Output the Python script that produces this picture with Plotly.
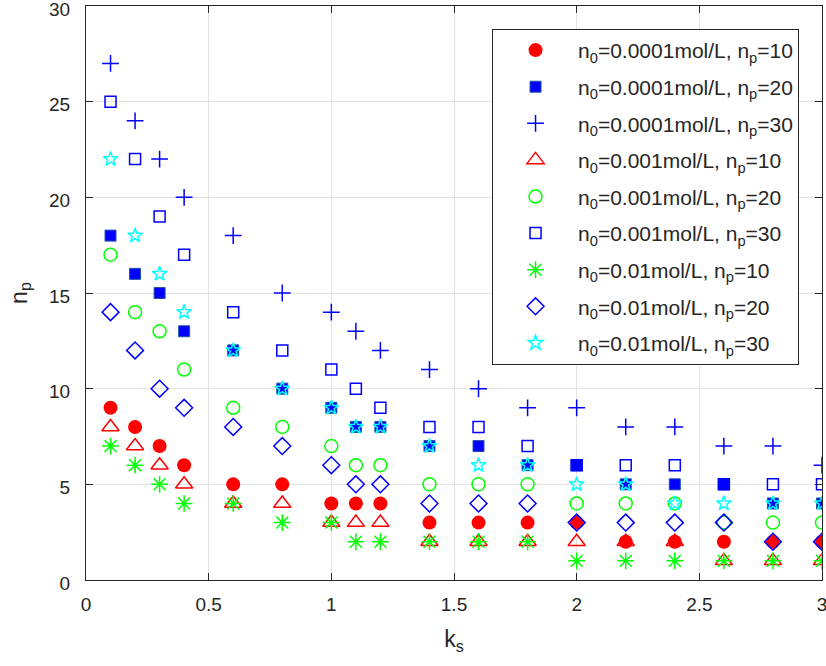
import plotly.graph_objects as go

ks = [0.1, 0.2, 0.3, 0.4, 0.6, 0.8, 1.0, 1.1, 1.2, 1.4, 1.6, 1.8, 2.0, 2.2, 2.4, 2.6, 2.8, 3.0]

np_1e4_10 = [9, 8, 7, 6, 5, 5, 4, 4, 4, 3, 3, 3, 3, 2, 2, 2, 2, 2]
np_1e4_20 = [18, 16, 15, 13, 12, 10, 9, 8, 8, 7, 7, 6, 6, 5, 5, 5, 4, 4]
np_1e4_30 = [27, 24, 22, 20, 18, 15, 14, 13, 12, 11, 10, 9, 9, 8, 8, 7, 7, 6]
np_1e3_10 = [8, 7, 6, 5, 4, 4, 3, 3, 3, 2, 2, 2, 2, 2, 2, 1, 1, 1]
np_1e3_20 = [17, 14, 13, 11, 9, 8, 7, 6, 6, 5, 5, 5, 4, 4, 4, 3, 3, 3]
np_1e3_30 = [25, 22, 19, 17, 14, 12, 11, 10, 9, 8, 8, 7, 6, 6, 6, 5, 5, 5]
np_1e2_10 = [7, 6, 5, 4, 4, 3, 3, 2, 2, 2, 2, 2, 1, 1, 1, 1, 1, 1]
np_1e2_20 = [14, 12, 10, 9, 8, 7, 6, 5, 5, 4, 4, 4, 3, 3, 3, 3, 2, 2]
np_1e2_30 = [22, 18, 16, 14, 12, 10, 9, 8, 8, 7, 6, 6, 5, 5, 4, 4, 4, 4]

names = [
    "n<sub>0</sub>=0.0001mol/L, n<sub>p</sub>=10",
    "n<sub>0</sub>=0.0001mol/L, n<sub>p</sub>=20",
    "n<sub>0</sub>=0.0001mol/L, n<sub>p</sub>=30",
    "n<sub>0</sub>=0.001mol/L, n<sub>p</sub>=10",
    "n<sub>0</sub>=0.001mol/L, n<sub>p</sub>=20",
    "n<sub>0</sub>=0.001mol/L, n<sub>p</sub>=30",
    "n<sub>0</sub>=0.01mol/L, n<sub>p</sub>=10",
    "n<sub>0</sub>=0.01mol/L, n<sub>p</sub>=20",
    "n<sub>0</sub>=0.01mol/L, n<sub>p</sub>=30",
]
series = [np_1e4_10, np_1e4_20, np_1e4_30, np_1e3_10, np_1e3_20,
          np_1e3_30, np_1e2_10, np_1e2_20, np_1e2_30]

styles = [
    dict(symbol="circle", size=14, color="#ff0000", line=dict(width=0)),
    dict(symbol="square", size=11, color="#0000ff", line=dict(width=1, color="#1f55a8")),
    dict(symbol="cross-thin-open", size=12, color="#0000ff", line=dict(width=1.5, color="#0000ff")),
    dict(symbol="triangle-up-open", size=15, color="#ff0000", line=dict(width=1.5, color="#ff0000")),
    dict(symbol="circle-open", size=13, color="#00ff00", line=dict(width=1.5, color="#00ff00")),
    dict(symbol="square-open", size=11, color="#0000ff", line=dict(width=1.5, color="#0000ff")),
    dict(symbol="asterisk-open", size=14, color="#00ff00", line=dict(width=1.5, color="#00ff00")),
    dict(symbol="diamond-open", size=13, color="#0000ff", line=dict(width=1.5, color="#0000ff")),
    dict(symbol="star-open", size=11, color="#00ffff", line=dict(width=1.5, color="#00ffff")),
]

fig = go.Figure()
for i, (nm, ys, st) in enumerate(zip(names, series, styles)):
    fig.add_trace(go.Scatter(x=ks, y=ys, mode="markers", name=nm, marker=st,
                             legendgroup=str(i), cliponaxis=True))

FONT = "Liberation Sans, Arial, Helvetica"
axis_common = dict(
    showline=True, linecolor="#262626", linewidth=1, mirror="ticks",
    ticks="inside", ticklen=7, tickcolor="#262626", tickwidth=1,
    showgrid=True, gridcolor="#e3e3e3", gridwidth=1, zeroline=False,
    tickfont=dict(family=FONT, size=19, color="#262626"),
    ticklabeloverflow="allow", automargin=False,
)

fig.update_layout(
    width=826, height=666,
    margin=dict(l=86, r=4, t=6, b=86, autoexpand=False),
    paper_bgcolor="white", plot_bgcolor="white",
    font=dict(family=FONT, size=19, color="#262626"),
    xaxis=dict(range=[0, 3], tickvals=[0, 0.5, 1, 1.5, 2, 2.5, 3],
               ticktext=["0", "0.5", "1", "1.5", "2", "2.5", "3"],
               title=dict(text="k<sub>s</sub>", standoff=17,
                          font=dict(family=FONT, size=23, color="#262626")),
               ticklabelstandoff=7, **axis_common),
    yaxis=dict(range=[0, 30], tickvals=[0, 5, 10, 15, 20, 25, 30],
               title=dict(text="n<sub>p</sub>", standoff=15,
                          font=dict(family=FONT, size=23, color="#262626")),
               ticklabelstandoff=11, ticklabelshift=3, **axis_common),
    legend=dict(x=0.9688, xanchor="right", y=0.96, yanchor="top",
                bgcolor="white", bordercolor="#262626", borderwidth=1,
                traceorder="grouped", tracegroupgap=6.3, itemwidth=75,
                font=dict(family=FONT, size=21, color="#262626")),
    showlegend=True,
)

fig.write_html("out.html")
